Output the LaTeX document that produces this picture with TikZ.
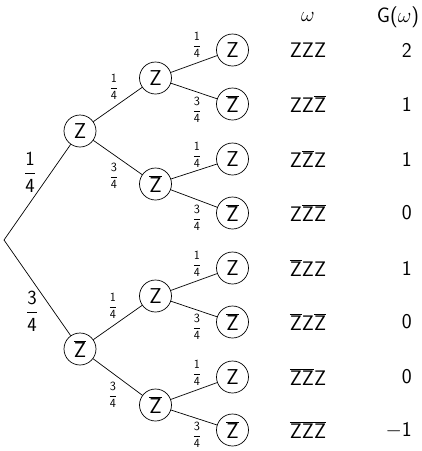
\RequirePackage{fix-cm}
\documentclass[tikz,border=0pt]{standalone}
\newcommand{\sz}{\hbox{\sffamily Z}}
\newcommand{\szb}{\overline{\hbox{\sffamily Z}}}
\newcommand{\fr}[2]{$\displaystyle\frac{\hbox{\sffamily #1}}{\hbox{\sffamily #2}}$}
\begin{document}
\begin{tikzpicture}[x=1pt,y=-1pt,
  st/.style={draw,circle,minimum size=32pt,inner sep=0pt,line width=0.7pt,font=\fontsize{21.5}{24}\selectfont},
  br/.style={line width=0.7pt},
  big/.style={font=\fontsize{21}{24}\selectfont,inner sep=0pt},
  frb/.style={font=\fontsize{20}{24}\selectfont,inner sep=0pt},
  sm/.style={font=\fontsize{12.5}{14}\selectfont,inner sep=0pt},
  num/.style={font=\fontsize{21}{24}\selectfont\sffamily,inner sep=0pt,anchor=east}]
\useasboundingbox (0,0) rectangle (422,451);
% tree
\coordinate (r) at (4,240);
\node[st] (a1) at (80,131) {$\sz$};
\node[st] (a2) at (80,349) {$\szb$};
\node[st] (b1) at (155.5,78) {$\sz$};
\node[st] (b2) at (155.5,184) {$\szb$};
\node[st] (b3) at (155.5,296) {$\sz$};
\node[st] (b4) at (155.5,405) {$\szb$};
\node[st] (l1) at (232.5,50) {$\sz$};
\node[st] (l2) at (232.5,104) {$\szb$};
\node[st] (l3) at (232.5,159) {$\sz$};
\node[st] (l4) at (232.5,213) {$\szb$};
\node[st] (l5) at (232.5,268) {$\sz$};
\node[st] (l6) at (232.5,322) {$\szb$};
\node[st] (l7) at (232.5,377) {$\sz$};
\node[st] (l8) at (232.5,430) {$\szb$};
\draw[br] (r) -- (a1);
\draw[br] (r) -- (a2);
\draw[br] (a1) -- (b1);
\draw[br] (a1) -- (b2);
\draw[br] (a2) -- (b3);
\draw[br] (a2) -- (b4);
\draw[br] (b1) -- (l1);
\draw[br] (b1) -- (l2);
\draw[br] (b2) -- (l3);
\draw[br] (b2) -- (l4);
\draw[br] (b3) -- (l5);
\draw[br] (b3) -- (l6);
\draw[br] (b4) -- (l7);
\draw[br] (b4) -- (l8);
% probabilities
\node[frb] (p1) at (30,172) {\fr{1}{4}};
\node[frb] (p2) at (32,311) {\fr{3}{4}};
\node[sm] (q1) at (114,87) {\fr{1}{4}};
\node[sm] (q2) at (114,176) {\fr{3}{4}};
\node[sm] (q3) at (113,306) {\fr{1}{4}};
\node[sm] (q4) at (113,395) {\fr{3}{4}};
\node[sm] (s1) at (197,45) {\fr{1}{4}};
\node[sm] (s2) at (197,110) {\fr{3}{4}};
\node[sm] (s3) at (197,155) {\fr{1}{4}};
\node[sm] (s4) at (197,218) {\fr{3}{4}};
\node[sm] (s5) at (197,264) {\fr{1}{4}};
\node[sm] (s6) at (197,327) {\fr{3}{4}};
\node[sm] (s7) at (197,373) {\fr{1}{4}};
\node[sm] (s8) at (197,435) {\fr{3}{4}};
% table
\node[big] (h1) at (308,17) {$\omega$};
\node[big] (h2) at (398,17) {\sffamily G($\omega$)};
\node[big] (w1) at (308,50) {$\sz\sz\sz$};
\node[big] (w2) at (308,104) {$\sz\sz\szb$};
\node[big] (w3) at (308,159) {$\sz\szb\sz$};
\node[big] (w4) at (308,213) {$\sz\overline{\hbox{\sffamily ZZ}}$};
\node[big] (w5) at (308,268) {$\szb\sz\sz$};
\node[big] (w6) at (308,322) {$\szb\sz\szb$};
\node[big] (w7) at (308,377) {$\overline{\hbox{\sffamily ZZ}}\sz$};
\node[big] (w8) at (308,430) {$\overline{\hbox{\sffamily ZZZ}}$};
\node[num] (g1) at (412,50) {2};
\node[num] (g2) at (412,104) {1};
\node[num] (g3) at (412,159) {1};
\node[num] (g4) at (412,213) {0};
\node[num] (g5) at (412,268) {1};
\node[num] (g6) at (412,322) {0};
\node[num] (g7) at (412,377) {0};
\node[num] (g8) at (412,430) {$-$1};
\end{tikzpicture}
\end{document}
